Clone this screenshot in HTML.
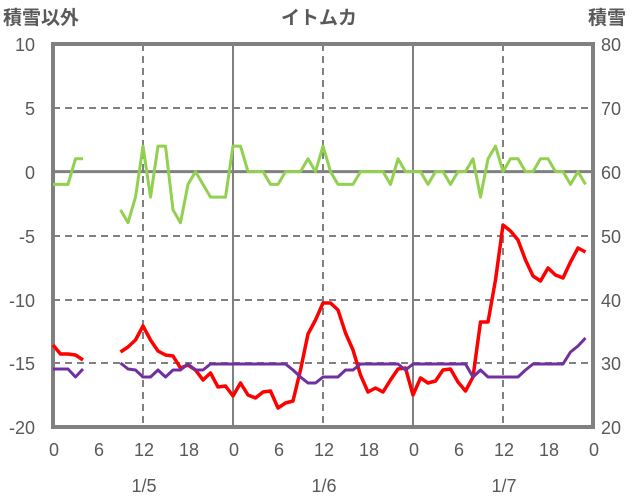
<!DOCTYPE html><html><head><meta charset="utf-8"><style>body{margin:0;background:#fff}svg{display:block}</style></head><body>
<svg width="636" height="501" xmlns="http://www.w3.org/2000/svg" font-family="Liberation Sans, Noto Sans CJK JP, sans-serif">
<rect width="636" height="501" fill="#fff"/>
<g stroke="#808080" stroke-width="2" stroke-dasharray="7,5" fill="none">
<line x1="53" y1="108" x2="593" y2="108"/><line x1="53" y1="236" x2="593" y2="236"/><line x1="53" y1="300" x2="593" y2="300"/><line x1="53" y1="363" x2="593" y2="363"/>
<line x1="143" y1="44" x2="143" y2="427"/><line x1="323" y1="44" x2="323" y2="427"/><line x1="503" y1="44" x2="503" y2="427"/>
</g>
<g stroke="#808080" stroke-width="2"><line x1="233" y1="44" x2="233" y2="427"/><line x1="413" y1="44" x2="413" y2="427"/></g>
<line x1="53" y1="171.6" x2="593" y2="171.6" stroke="#808080" stroke-width="3"/>
<rect x="53" y="44" width="540" height="383" fill="none" stroke="#808080" stroke-width="4"/>
<g fill="none" stroke-width="3" stroke-linejoin="round">
<g stroke="#92d050">
<polyline points="53,184.4 60.5,184.4 68,184.4 75.5,158.8 83,158.8"/>
<polyline points="120.5,209.9 128,222.7 135.5,197.1 143,146.1 150.5,197.1 158,146.1 165.5,146.1 173,209.9 180.5,222.7 188,184.4 195.5,171.6 203,184.4 210.5,197.1 218,197.1 225.5,197.1 233,146.1 240.5,146.1 248,171.6 255.5,171.6 263,171.6 270.5,184.4 278,184.4 285.5,171.6 293,171.6 300.5,171.6 308,158.8 315.5,171.6 323,146.1 330.5,171.6 338,184.4 345.5,184.4 353,184.4 360.5,171.6 368,171.6 375.5,171.6 383,171.6 390.5,184.4 398,158.8 405.5,171.6 413,171.6 420.5,171.6 428,184.4 435.5,171.6 443,171.6 450.5,184.4 458,171.6 465.5,171.6 473,158.8 480.5,197.1 488,158.8 495.5,146.1 503,171.6 510.5,158.8 518,158.8 525.5,171.6 533,171.6 540.5,158.8 548,158.8 555.5,171.6 563,171.6 570.5,184.4 578,171.6 585.5,184.4"/>
</g>
<g stroke="#ff0000" stroke-width="3.5">
<polyline points="53,345 60.5,354 68,354 75.5,355 83,360"/>
<polyline points="120.5,352 128,347 135.5,340 143,326 150.5,340 158,351 165.5,355 173,356 180.5,368 188,365 195.5,370 203,380 210.5,373 218,387 225.5,386 233,396 240.5,383 248,395 255.5,398 263,392 270.5,391 278,408 285.5,403 293,401 300.5,370 308,334 315.5,320 323,303 330.5,303 338,310 345.5,333 353,350 360.5,375 368,392 375.5,388 383,392 390.5,380 398,369 405.5,368 413,395 420.5,378 428,383 435.5,381 443,370 450.5,369 458,382 465.5,391 473,377 480.5,322 488,322 495.5,280 503,225 510.5,231 518,240 525.5,260 533,276 540.5,281 548,268 555.5,275 563,278 570.5,262 578,248 585.5,252"/>
</g>
<g stroke="#7030a0">
<polyline points="53,369 60.5,369 68,369 75.5,377 83,369"/>
<polyline points="120.5,363 128,369 135.5,370 143,377 150.5,377 158,370 165.5,377 173,370 180.5,370 188,364 195.5,370 203,370 210.5,364 218,364 225.5,364 233,364 240.5,364 248,364 255.5,364 263,364 270.5,364 278,364 285.5,364 293,370 300.5,377 308,383 315.5,383 323,377 330.5,377 338,377 345.5,370 353,370 360.5,364 368,364 375.5,364 383,364 390.5,364 398,364 405.5,370 413,364 420.5,364 428,364 435.5,364 443,364 450.5,364 458,364 465.5,364 473,377 480.5,370 488,377 495.5,377 503,377 510.5,377 518,377 525.5,370 533,364 540.5,364 548,364 555.5,364 563,364 570.5,352 578,346 585.5,338"/>
</g>
</g>
<g font-size="18" fill="#595959">
<g text-anchor="end"><text x="35" y="51">10</text><text x="35" y="115">5</text><text x="35" y="179">0</text><text x="35" y="243">-5</text><text x="35" y="307">-10</text><text x="35" y="370">-15</text><text x="35" y="434">-20</text></g>
<g text-anchor="start"><text x="601" y="51">80</text><text x="601" y="115">70</text><text x="601" y="179">60</text><text x="601" y="243">50</text><text x="601" y="307">40</text><text x="601" y="370">30</text><text x="601" y="434">20</text></g>
<g text-anchor="middle"><text x="54" y="456">0</text><text x="99" y="456">6</text><text x="144" y="456">12</text><text x="189" y="456">18</text><text x="234" y="456">0</text><text x="279" y="456">6</text><text x="324" y="456">12</text><text x="369" y="456">18</text><text x="414" y="456">0</text><text x="459" y="456">6</text><text x="504" y="456">12</text><text x="549" y="456">18</text><text x="594" y="456">0</text></g>
<text x="144" y="492" text-anchor="middle">1/5</text><text x="324" y="492" text-anchor="middle">1/6</text><text x="504" y="492" text-anchor="middle">1/7</text>
<g font-size="19" font-weight="bold"><text x="3" y="24">積雪以外</text><text x="319" y="24" text-anchor="middle">イトムカ</text><text x="588" y="24">積雪</text></g>
</g>
</svg></body></html>
